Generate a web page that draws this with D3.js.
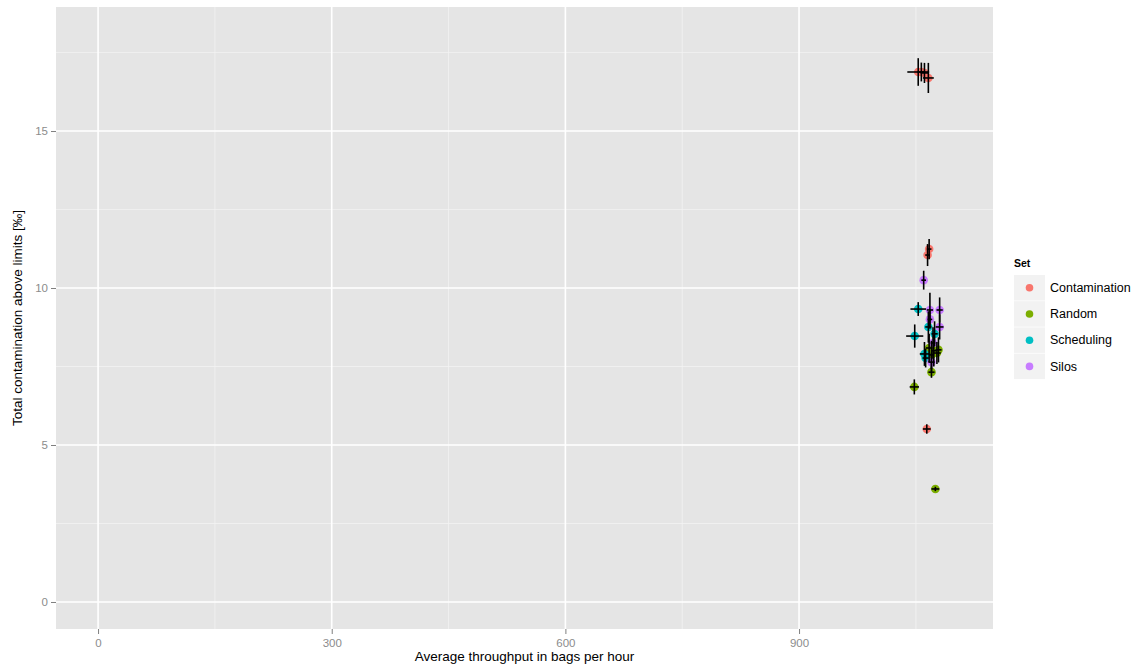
<!doctype html>
<html>
<head>
<title>throughput vs contamination</title>
<script src="https://d3js.org/d3.v7.min.js"></script>
<style>
body { margin: 0; background: #fff; }
text { font-family: "Liberation Sans", Arial, sans-serif; }
.tick text { fill: #8c8c8c; font-size: 11.5px; }
.tick line { stroke: #7f7f7f; }
.domain { display: none; }
</style>
</head>
<body>
<svg width="1141" height="666"></svg>
<script>

var sets = ["Contamination", "Random", "Scheduling", "Silos"];
var colours = ["#F8766D", "#7CAE00", "#00BFC4", "#C77CFF"];

// one entry per point
var pointSet = [
  "Contamination", "Contamination", "Contamination", "Contamination", "Contamination", "Contamination", "Contamination",
  "Random", "Random", "Random", "Random", "Random", "Random", "Random", "Random",
  "Scheduling", "Scheduling", "Scheduling", "Scheduling", "Scheduling", "Scheduling",
  "Silos", "Silos", "Silos", "Silos", "Silos", "Silos", "Silos"
];
var throughput = [
  1053, 1057, 1061, 1066, 1067, 1065, 1064,
  1075, 1048, 1070, 1067, 1079, 1077, 1070, 1073,
  1053, 1048.5, 1066, 1074, 1061, 1062.5,
  1060, 1068, 1080.5, 1068, 1080.5, 1072, 1070
];
var throughputErr = [
  14, 5, 5, 7, 3, 3, 5,
  5, 6, 4, 4, 4, 5, 3, 3,
  10, 11, 4, 4, 6, 4,
  3, 4, 4, 3, 5, 3, 4
];
var contamination = [
  16.88, 16.88, 16.85, 16.69, 11.24, 11.05, 5.51,
  3.6, 6.85, 7.32, 8.09, 8.03, 7.93, 7.87, 8.0,
  9.33, 8.47, 8.76, 8.54, 7.9, 7.77,
  10.25, 9.3, 9.3, 9.0, 8.76, 8.25, 7.64
];
var contaminationErr = [
  0.44, 0.3, 0.32, 0.48, 0.32, 0.35, 0.15,
  0.07, 0.24, 0.18, 0.45, 0.4, 0.35, 0.45, 0.5,
  0.22, 0.37, 0.5, 0.4, 0.38, 0.3,
  0.3, 0.55, 0.4, 0.3, 0.4, 0.5, 0.3
];
var xTicks = [0, 300, 600, 900];
var yTicks = [0, 5, 10, 15];
var xMinor = [150, 450, 750, 1050];
var yMinor = [2.5, 7.5, 12.5, 17.5];

var svg = d3.select("svg"),
    margin = {top: 7, right: 148, bottom: 37, left: 56},
    width = +svg.attr("width") - margin.left - margin.right,
    height = +svg.attr("height") - margin.top - margin.bottom;

var data = pointSet.map(function(s, i) {
  return {set: s, x: throughput[i], y: contamination[i], xe: throughputErr[i], ye: contaminationErr[i]};
});

var x = d3.scaleLinear().domain([-54, 1149]).range([0, width]),
    y = d3.scaleLinear().domain([-0.86, 18.95]).range([height, 0]);
var colour = d3.scaleOrdinal().domain(sets).range(colours);

var g = svg.append("g")
    .attr("transform", "translate(" + margin.left + "," + margin.top + ")");

g.append("rect")
    .attr("width", width)
    .attr("height", height)
    .attr("fill", "#e5e5e5");

// minor grid
g.selectAll(".minorx").data(xMinor).enter().append("line")
    .attr("x1", function(d) { return x(d); }).attr("x2", function(d) { return x(d); })
    .attr("y1", 0).attr("y2", height)
    .attr("stroke", "#f2f2f2").attr("stroke-width", 0.8);
g.selectAll(".minory").data(yMinor).enter().append("line")
    .attr("y1", function(d) { return y(d); }).attr("y2", function(d) { return y(d); })
    .attr("x1", 0).attr("x2", width)
    .attr("stroke", "#f2f2f2").attr("stroke-width", 0.8);

// major grid
g.selectAll(".majorx").data(xTicks).enter().append("line")
    .attr("x1", function(d) { return x(d); }).attr("x2", function(d) { return x(d); })
    .attr("y1", 0).attr("y2", height)
    .attr("stroke", "#fff").attr("stroke-width", 1.6);
g.selectAll(".majory").data(yTicks).enter().append("line")
    .attr("y1", function(d) { return y(d); }).attr("y2", function(d) { return y(d); })
    .attr("x1", 0).attr("x2", width)
    .attr("stroke", "#fff").attr("stroke-width", 1.6);

// axes
g.append("g")
    .attr("transform", "translate(0," + height + ")")
    .call(d3.axisBottom(x).tickValues(xTicks).tickSize(5).tickPadding(5));
g.append("g")
    .call(d3.axisLeft(y).tickValues(yTicks).tickSize(5).tickPadding(3));

// points
g.selectAll(".pt").data(data).enter().append("circle")
    .attr("cx", function(d) { return x(d.x); })
    .attr("cy", function(d) { return y(d.y); })
    .attr("r", 4.3)
    .attr("fill", function(d) { return colour(d.set); });

// error bars
g.selectAll(".ey").data(data).enter().append("line")
    .attr("x1", function(d) { return x(d.x); }).attr("x2", function(d) { return x(d.x); })
    .attr("y1", function(d) { return y(d.y - d.ye); }).attr("y2", function(d) { return y(d.y + d.ye); })
    .attr("stroke", "#000").attr("stroke-width", 1.6);
g.selectAll(".ex").data(data).enter().append("line")
    .attr("y1", function(d) { return y(d.y); }).attr("y2", function(d) { return y(d.y); })
    .attr("x1", function(d) { return x(d.x - d.xe); }).attr("x2", function(d) { return x(d.x + d.xe); })
    .attr("stroke", "#000").attr("stroke-width", 1.6);

// axis titles
svg.append("text")
    .attr("x", margin.left + width / 2)
    .attr("y", 661)
    .attr("text-anchor", "middle")
    .attr("font-size", 13.5)
    .text("Average throughput in bags per hour");
svg.append("text")
    .attr("transform", "translate(22," + (margin.top + height / 2) + ") rotate(-90)")
    .attr("text-anchor", "middle")
    .attr("font-size", 13.5)
    .text("Total contamination above limits [‰]");

// legend
var legend = svg.append("g").attr("transform", "translate(1014,267)");
legend.append("text")
    .attr("x", 0).attr("y", 0)
    .attr("font-size", 10.5)
    .attr("font-weight", "bold")
    .text("Set");
var item = legend.selectAll(".item").data(sets).enter().append("g")
    .attr("transform", function(d, i) { return "translate(0," + (8 + i * 26.2) + ")"; });
item.append("rect")
    .attr("width", 31).attr("height", 25.5)
    .attr("fill", "#f2f2f2");
item.append("circle")
    .attr("cx", 15.5).attr("cy", 12.8).attr("r", 3.8)
    .attr("fill", function(d) { return colour(d); });
item.append("text")
    .attr("x", 36).attr("y", 17)
    .attr("font-size", 12.5)
    .text(function(d) { return d; });

</script>
</body>
</html>
